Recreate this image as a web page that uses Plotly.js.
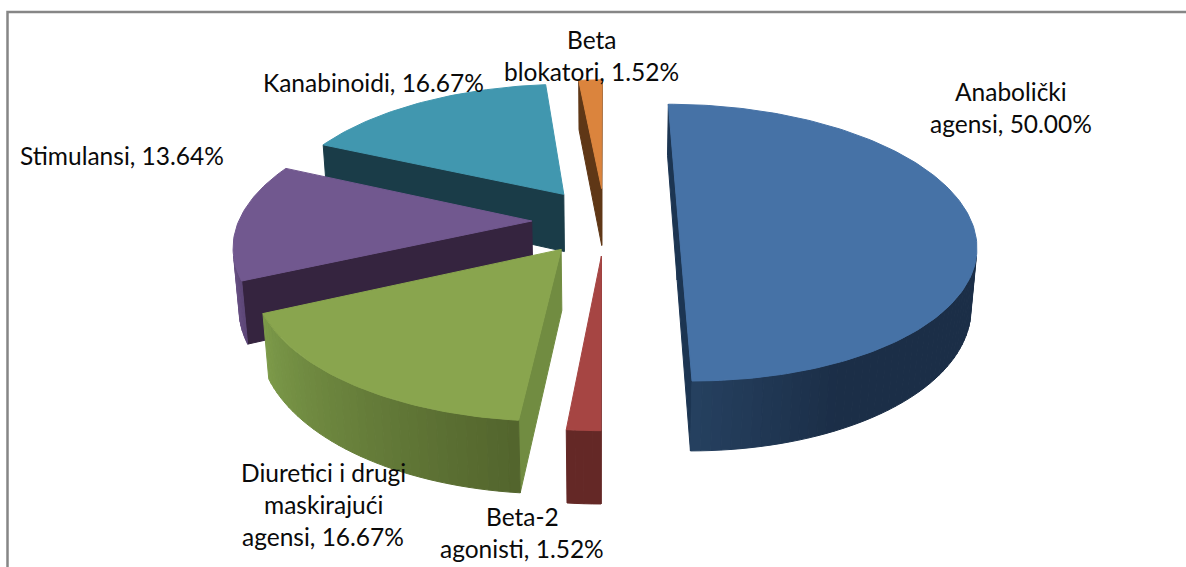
<!DOCTYPE html>
<html><head><meta charset="utf-8">
<script src="https://cdn.plot.ly/plotly-3.0.1.min.js"></script>
<style>html,body{margin:0;padding:0;background:#fff;overflow:hidden}</style>
</head><body><div id="chart" style="width:1186px;height:567px"></div>
<script>
// Data
const categories = ['Anabolički agensi','Beta-2 agonisti','Diuretici i drugi maskirajući agensi','Stimulansi','Kanabinoidi','Beta blokatori'];
const shares = [50.00,1.52,16.67,13.64,16.67,1.52];
const topColors = ['#4672a6','#a64543','#89a54e','#71588f','#4197af','#db843d'];
const wallFrom = ['#25405f','#642826','#7c9a49','#6a5386','#1a3c48','#5f3716'];
const wallTo   = ['#1b2e47','#642826','#53652d','#5d4778','#1a3c48','#5f3716'];
const sideColors = ['#1c3552','#642826','#718c41','#35243f','#1a3c48','#5f3716'];
const labelLines = [['Anabolički','agensi, 50.00%'],['Beta-2','agonisti, 1.52%'],['Diuretici i drugi','maskirajući','agensi, 16.67%'],['Stimulansi, 13.64%'],['Kanabinoidi, 16.67%'],['Beta','blokatori, 1.52%']];
const labelX = [1011,522,323,122,373,591];
const labelY = [91,516,472,155,82,39];
const drawOrder = [5,4,3,2,1,0];

// 3D pie projection
const CX=605, CY=221, RX=293, RY=135, D=6.4, HEIGHT=59, PULLX=0.25, PULLY=0.25, K=0.1, LINE=32;
function project(u,v,z){ const s=D/(D-v+K*z), s0=D/(D-v); return [CX+RX*u*s, CY+RY*v*s0+HEIGHT*z*s0]; }
function hex(c){return [1,3,5].map(i=>parseInt(c.substr(i,2),16));}
function mix(a,b,t){const A=hex(a),B=hex(b);return 'rgb('+A.map((x,i)=>Math.round(x+(B[i]-x)*t)).join(',')+')';}
function area(p){let s=0;for(let i=0;i<p.length;i++){const a=p[i],b=p[(i+1)%p.length];s+=a[0]*b[1]-b[0]*a[1];}return s/2;}
function poly(pts,color){
  const x=pts.map(p=>p[0]).concat(pts[0][0]), y=pts.map(p=>p[1]).concat(pts[0][1]);
  return {type:'scatter',mode:'lines',x,y,fill:'toself',fillcolor:color,line:{color:color,width:1},hoverinfo:'skip',showlegend:false};
}
const total=shares.reduce((a,b)=>a+b,0);
const slices=[]; let acc=0;
shares.forEach((v,i)=>{const a0=acc/total*2*Math.PI; acc+=v; const a1=acc/total*2*Math.PI; slices.push({i,a0,a1});});
const traces=[];
drawOrder.forEach(i=>{
  const {a0,a1}=slices[i], mid=(a0+a1)/2;
  const ou=PULLX*Math.sin(mid), ov=-PULLY*Math.cos(mid);
  const rim=(a,z)=>project(ou+Math.sin(a),ov-Math.cos(a),z);
  const apex=z=>project(ou,ov,z);
  // radial side walls
  [[a0,-1],[a1,1]].forEach(([a,dir])=>{
    const q=[apex(0),rim(a,0),rim(a,1),apex(1)];
    if(area(q)*dir>0) traces.push(poly(q,sideColors[i]));
  });
  // outer wall strips
  const n=Math.max(4,Math.round((a1-a0)/0.03));
  const vis=[];
  for(let k=0;k<n;k++){
    const b0=a0+(a1-a0)*k/n, b1=a0+(a1-a0)*(k+1)/n;
    const q=[rim(b0,0),rim(b1,0),rim(b1,1),rim(b0,1)];
    if(area(q)<0) vis.push(q);
  }
  vis.reverse().forEach((q,k)=>{
    const f=vis.length>1?k/(vis.length-1):0;
    traces.push(poly(q,mix(wallFrom[i],wallTo[i],i===0?Math.min(1,f*3):f)));
  });
  // top face
  const top=[apex(0)];
  const m=Math.max(4,Math.round((a1-a0)/0.02));
  for(let k=0;k<=m;k++) top.push(rim(a0+(a1-a0)*k/m,0));
  traces.push(poly(top,topColors[i]));
});
const annotations=[];
labelLines.forEach((lines,i)=>lines.forEach((t,j)=>annotations.push({
  x:labelX[i],y:labelY[i]+j*LINE,xref:'x',yref:'y',text:t,showarrow:false,xanchor:'center',yanchor:'middle',
  font:{family:'Lato, Carlito, sans-serif',size:24.5,color:'#0a0a0a'}})));
const layout={width:1186,height:567,margin:{l:0,r:0,t:0,b:0},paper_bgcolor:'#fff',plot_bgcolor:'#fff',showlegend:false,
  xaxis:{range:[0,1186],visible:false,fixedrange:true},
  yaxis:{range:[567,0],visible:false,fixedrange:true},
  annotations,
  shapes:[{type:'path',path:'M7.5,567 L7.5,12 L1186,12',xref:'x',yref:'y',line:{color:'#868686',width:2.5},layer:'below'}]};
Plotly.newPlot('chart',traces,layout,{displayModeBar:false,staticPlot:true});
</script></body></html>
